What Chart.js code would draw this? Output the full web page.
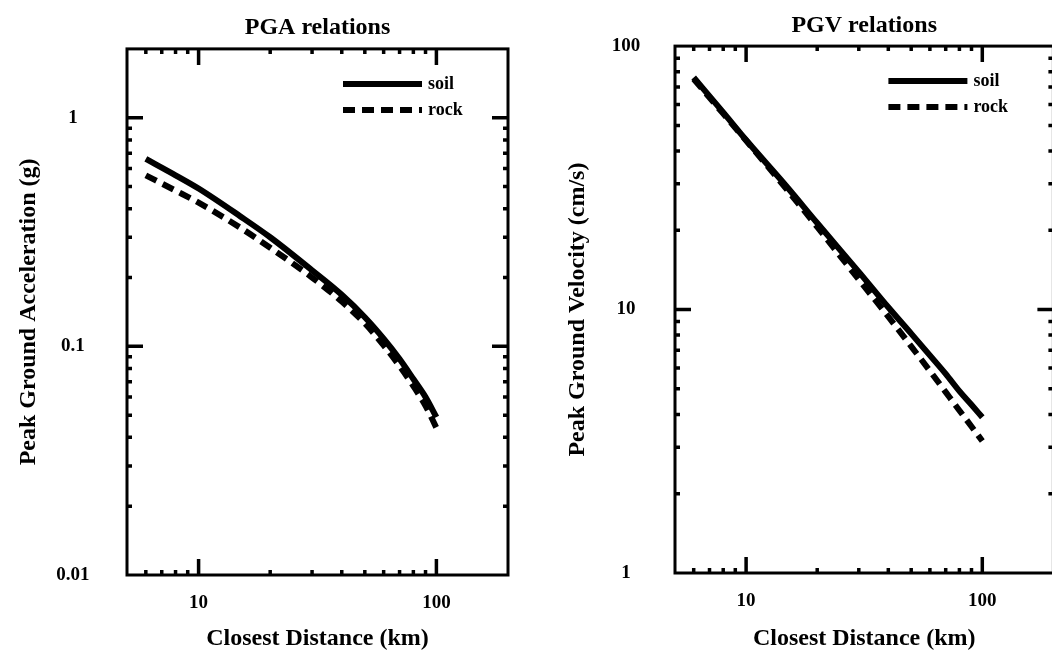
<!DOCTYPE html>
<html>
<head>
<meta charset="utf-8">
<script src="https://cdn.jsdelivr.net/npm/chart.js@4/dist/chart.umd.min.js"></script>
<style>
  html, body { margin: 0; padding: 0; background: #fff; overflow: hidden; width: 1052px; height: 655px; }
  .caja { position: absolute; top: 0; }
</style>
</head>
<body>
<div class="caja" style="left:0px"><canvas id="grafica1" width="530" height="655"></canvas></div>
<div class="caja" style="left:530px"><canvas id="grafica2" width="540" height="655"></canvas></div>
<script>
// distancias (km) donde se leyeron los valores
const distancias = [6, 8, 10, 15, 20, 30, 40, 50, 60, 70, 80, 90, 100];

// PGA (g)
const pgaSuelo = [0.66, 0.56, 0.49, 0.37, 0.30, 0.215, 0.168, 0.134, 0.108, 0.088, 0.072, 0.060, 0.049];
const pgaRoca  = [0.56, 0.48, 0.425, 0.33, 0.27, 0.20, 0.157, 0.126, 0.101, 0.082, 0.067, 0.055, 0.044];

// PGV (cm/s)
const pgvSuelo = [76, 56, 44, 29, 21.3, 13.9, 10.2, 8.1, 6.7, 5.7, 4.9, 4.35, 3.9];
const pgvRoca  = [75, 55.4, 43.8, 28.3, 20.6, 13.0, 9.4, 7.25, 5.85, 4.86, 4.14, 3.6, 3.17];

const etiquetasX = [10, 100];
const etiquetasPGA = [1, 0.1, 0.01];
const etiquetasPGV = [100, 10, 1];

const fuente = 'Liberation Serif';

// marco, marcas hacia adentro y leyenda dentro del area
const marco = {
  id: 'marco',
  afterDraw(chart) {
    const {ctx, chartArea: a, scales: {x, y}} = chart;
    ctx.save();
    ctx.strokeStyle = '#000';
    ctx.fillStyle = '#000';
    ctx.setLineDash([]);
    ctx.lineWidth = 3;
    ctx.strokeRect(a.left, a.top, a.right - a.left, a.bottom - a.top);

    const marcas = (esc, fn) => {
      const e0 = Math.floor(Math.log10(esc.min)), e1 = Math.ceil(Math.log10(esc.max));
      for (let e = e0; e <= e1; e++) {
        for (let m = 1; m <= 9; m++) {
          const v = m * Math.pow(10, e);
          const p = esc.getPixelForValue(v);
          if (v <= esc.min * 1.001 || v >= esc.max * 0.999) continue;
          fn(p, m === 1 ? 16 : 5);
        }
      }
    };
    ctx.lineWidth = 3.5;
    marcas(x, (p, l) => {
      ctx.beginPath();
      ctx.moveTo(p, a.bottom); ctx.lineTo(p, a.bottom - l);
      ctx.moveTo(p, a.top); ctx.lineTo(p, a.top + l);
      ctx.stroke();
    });
    marcas(y, (p, l) => {
      ctx.beginPath();
      ctx.moveTo(a.left, p); ctx.lineTo(a.left + l, p);
      ctx.moveTo(a.right, p); ctx.lineTo(a.right - l, p);
      ctx.stroke();
    });

    // leyenda
    ctx.font = 'bold 18px "' + fuente + '"';
    ctx.textBaseline = 'middle';
    chart.data.datasets.forEach((ds, i) => {
      const yy = a.top + 35 + i * 26;
      ctx.lineWidth = ds.borderWidth;
      ctx.setLineDash(ds.borderDash || []);
      ctx.beginPath();
      ctx.moveTo(a.right - 165, yy);
      ctx.lineTo(a.right - 86, yy);
      ctx.stroke();
      ctx.fillText(ds.label, a.right - 80, yy);
    });
    ctx.restore();
  }
};

function principal(id, titulo, tituloY, suelo, roca, minY, maxY, etiquetasY, cfg) {
  const grafica = document.querySelector(id);
  const serie = vals => distancias.map((d, i) => ({x: d, y: vals[i]}));
  new Chart(grafica, {
    type: 'line',
    data: {
      datasets: [
        {
          label: 'soil',
          data: serie(suelo),
          borderColor: '#000',
          borderWidth: 6,
          pointRadius: 0,
          cubicInterpolationMode: 'monotone',
          fill: false,
        },
        {
          label: 'rock',
          data: serie(roca),
          borderColor: '#000',
          borderWidth: 6,
          borderDash: [12, 7],
          pointRadius: 0,
          cubicInterpolationMode: 'monotone',
          fill: false,
        },
      ]
    },
    options: {
      responsive: false,
      animation: false,
      layout: { padding: { left: 0, right: cfg.derecha, top: 0, bottom: 0 } },
      plugins: {
        legend: { display: false },
        tooltip: { enabled: false },
        title: {
          display: true,
          text: titulo,
          fullSize: false,
          color: '#000',
          font: { family: fuente, size: 24, weight: 'bold' },
          padding: { top: 11.6, bottom: cfg.tituloAbajo },
        },
      },
      scales: {
        x: {
          type: 'logarithmic',
          min: 5,
          max: 200,
          grid: { display: false, drawTicks: false },
          border: { display: false },
          afterFit: s => { s.height = cfg.altoX; },
          ticks: {
            autoSkip: false,
            maxRotation: 0,
            padding: 16.6,
            color: '#000',
            font: { family: fuente, size: 19, weight: 'bold' },
            callback: v => etiquetasX.includes(v) ? String(v) : '',
          },
          title: {
            display: true,
            text: 'Closest Distance (km)',
            color: '#000',
            font: { family: fuente, size: 24, weight: 'bold' },
            padding: { top: 0, bottom: 2 },
          },
        },
        y: {
          type: 'logarithmic',
          min: minY,
          max: maxY,
          grid: { display: false, drawTicks: false },
          border: { display: false },
          afterFit: s => { s.width = cfg.anchoY; },
          ticks: {
            autoSkip: false,
            crossAlign: 'center',
            padding: cfg.sepY,
            color: '#000',
            font: { family: fuente, size: 19, weight: 'bold' },
            callback: v => etiquetasY.some(e => Math.abs(e - v) < e * 1e-6) ? String(v) : '',
          },
          title: {
            display: true,
            text: tituloY,
            color: '#000',
            font: { family: fuente, size: 24, weight: 'bold' },
            padding: { top: cfg.tituloY, bottom: 0 },
          },
        },
      },
    },
    plugins: [marco],
  });
}

principal('#grafica1', 'PGA relations', 'Peak Ground Acceleration (g)', pgaSuelo, pgaRoca, 0.01, 2, etiquetasPGA,
  { derecha: 22, tituloAbajo: 6.6, altoX: 80, anchoY: 127, sepY: 37.5, tituloY: 14.6 });
principal('#grafica2', 'PGV relations', 'Peak Ground Velocity (cm/s)', pgvSuelo, pgvRoca, 1, 100, etiquetasPGV,
  { derecha: 13, tituloAbajo: 5.6, altoX: 82, anchoY: 145, sepY: 34.7, tituloY: 33.6 });
</script>
</body>
</html>
